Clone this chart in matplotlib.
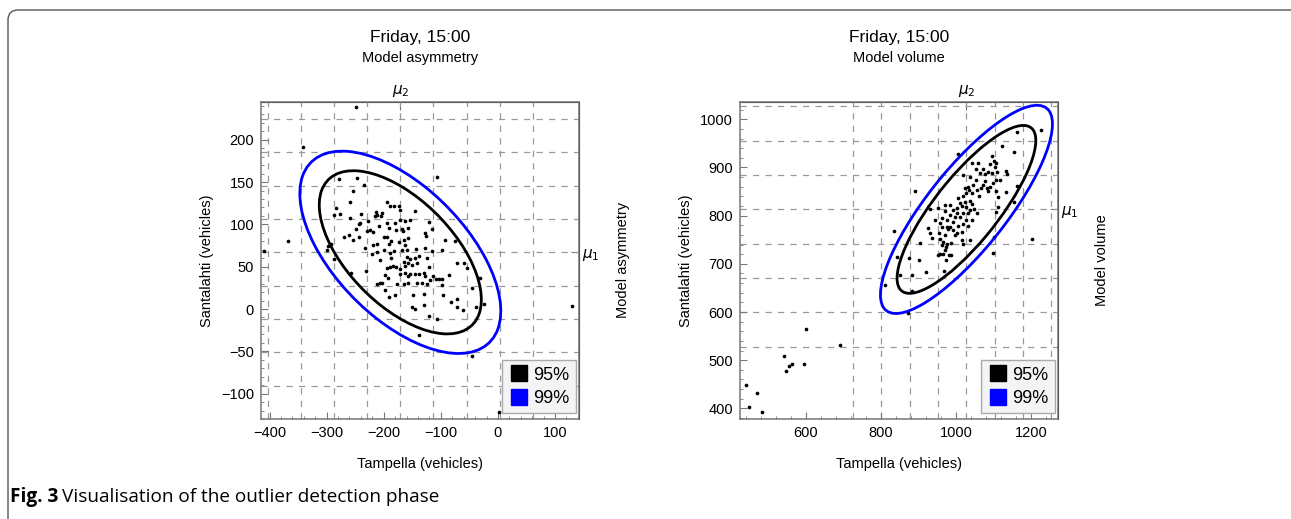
import numpy as np
import matplotlib
matplotlib.use('Agg')
import matplotlib.pyplot as plt
from matplotlib.patches import Ellipse, FancyBboxPatch
from matplotlib.lines import Line2D
from matplotlib.ticker import AutoMinorLocator

plt.rcParams['font.family'] = ['Liberation Sans', 'DejaVu Sans']

# Model asymmetry: (Tampella, Santalahti) points
asym_x = [-248, -342, -410, -367, 130, 1,
          -279, -247, -235, -254, -259, -284, -288, -276, -259, -240, -107, -195, -189, -182,
          -174, -172, -146, -213, -211, -203, -205, -215, -228, -244, -241, -248, -230, -219,
          -224, -209, -195, -190, -180, -172, -163, -167, -168, -179, -157, -154, -120, -115,
          -128, -126, -93, -76, -270, -260, -254, -243, -297, -300, -293, -288, -233, -219,
          -211, -200, -195, -187, -190, -174, -165, -158, -163, -160, -168, -182, -189, -188,
          -200, -211, -221, -206, -143, -139, -145, -154, -160, -164, -157, -151, -142, -128,
          -125, -116, -98, -60, -55, -31, -257,
          -231, -195, -189, -183, -178, -171, -163, -198, -193, -171, -163, -158, -154, -145,
          -139, -130, -120, -128, -113, -108, -104, -98, -119, -85, -72, -46, -206, -211,
          -203, -177, -165, -157, -142, -133, -125, -98, -198, -191, -181, -148, -130, -97,
          -82, -72, -72, -62, -39, -24, -151, -146, -130, -120, -107, -139, -46]
asym_y = [239, 192, 68, 80, 3, -122,
          154, 155, 146, 139, 126, 119, 111, 112, 108, 112, 156, 126, 122, 122,
          122, 117, 116, 115, 111, 113, 110, 110, 104, 101, 102, 95, 92, 91,
          93, 98, 102, 96, 102, 105, 104, 92, 95, 93, 96, 105, 103, 95,
          90, 86, 82, 80, 85, 88, 81, 85, 74, 70, 77, 59, 72, 76,
          77, 85, 85, 80, 77, 79, 82, 84, 76, 70, 70, 69, 66, 60,
          70, 67, 65, 58, 71, 63, 60, 59, 61, 56, 54, 52, 54, 72,
          60, 68, 70, 54, 48, 37, 43,
          45, 48, 50, 51, 50, 47, 51, 40, 37, 41, 42, 39, 41, 41,
          41, 43, 50, 39, 39, 35, 35, 35, 34, 40, 54, 25, 31, 30,
          31, 30, 30, 31, 31, 31, 30, 28, 22, 14, 16, 16, 18, 17,
          8, 12, 2, -1, 2, 6, 2, 0, 5, -8, -12, -31, -56]

# Model volume: points
vol_x = [441, 448, 470, 484, 542, 547, 555, 564, 596, 599, 692,
         1162, 1228, 1124, 1155, 1006, 1095, 1101, 1107, 1092, 1104, 1060, 1042, 1053, 1073,
         1086, 1077, 1064, 1095, 1110, 1133, 1137, 1020, 1037, 1053, 1077, 1107, 1100, 1117,
         1073, 1082, 1086, 1091, 1067, 1055, 1046, 1033, 1024, 1036, 1028, 1042, 1062, 1108,
         1113, 1133, 1162, 1155, 891, 1020, 1006, 1011, 1024, 1037, 1044, 1015, 1028, 1037,
         1048, 1033, 1004, 993, 984, 971, 953, 931, 971, 1004, 1020, 1055, 1113, 1108,
         984, 997, 1011, 1028, 1042, 964, 975, 957, 944, 991, 1006, 1020, 1033, 975, 984,
         962, 926,
         835, 993, 980, 932, 956, 997, 1004, 1015, 971, 957, 966, 962, 977, 988, 973, 904,
         935, 1015, 1018, 1037, 957, 966, 953, 981, 988, 971, 973, 968, 902, 876, 842, 852,
         884, 920, 811, 882, 873, 1101, 1100, 1202]
vol_y = [448, 403, 432, 392, 508, 477, 488, 493, 493, 564, 531,
         974, 978, 945, 933, 927, 924, 914, 909, 907, 902, 909, 910, 896, 896,
         891, 886, 888, 888, 891, 893, 886, 884, 881, 874, 871, 873, 868, 874,
         864, 858, 851, 860, 857, 853, 864, 860, 857, 853, 848, 846, 841, 852,
         839, 850, 862, 829, 851, 841, 836, 826, 829, 831, 824, 820, 817, 812,
         813, 805, 815, 812, 822, 822, 815, 813, 810, 805, 805, 805, 817, 808,
         801, 797, 798, 791, 792, 795, 791, 784, 791, 786, 779, 783, 779, 777, 776,
         776, 774,
         768, 770, 772, 765, 763, 760, 765, 767, 760, 751, 746, 739, 741, 744, 734, 744,
         753, 750, 741, 750, 720, 720, 719, 719, 719, 728, 707, 685, 708, 713, 714, 677,
         676, 684, 656, 643, 598, 755, 722, 752]

# mean, std and correlation of each model (grid lines sit at mean + k*std)
asym_mu = (-171, 67)
asym_sd = (58, 39.4)
asym_rho = -0.58
vol_mu = (1028, 813)
vol_sd = (75.6, 71.2)
vol_rho = 0.82

levels = ['95%', '99%']
level_chi2 = [5.991, 9.210]
level_colors = ['black', '#0000ff']

W, H = 1291, 519
fig = plt.figure(figsize=(W / 100, H / 100), dpi=100)


def conf_ellipse(ax, mu, sd, rho, chi2, color):
    cov = np.array([[sd[0] ** 2, rho * sd[0] * sd[1]],
                    [rho * sd[0] * sd[1], sd[1] ** 2]])
    vals, vecs = np.linalg.eigh(cov)
    angle = np.degrees(np.arctan2(vecs[1, 1], vecs[0, 1]))
    e = Ellipse(mu, 2 * np.sqrt(chi2 * vals[1]), 2 * np.sqrt(chi2 * vals[0]),
                angle=angle, fill=False, ec=color, lw=2.0, zorder=4)
    ax.add_patch(e)


def panel(rect, x, y, mu, sd, rho, xlim, ylim, xticks, yticks, model):
    ax = fig.add_axes(rect)
    for k in range(-4, 5):
        ax.axvline(mu[0] + k * sd[0], color='#999999', lw=0.9, ls=(0, (5, 5)), zorder=1)
        ax.axhline(mu[1] + k * sd[1], color='#999999', lw=0.9, ls=(0, (5, 5)), zorder=1)
    ax.scatter(x, y, s=7, c='black', lw=0, zorder=3)
    for chi2, col in zip(level_chi2, level_colors):
        conf_ellipse(ax, mu, sd, rho, chi2, col)
    ax.set_xlim(xlim)
    ax.set_ylim(ylim)
    ax.set_xticks(xticks)
    ax.set_yticks(yticks)
    ax.xaxis.set_minor_locator(AutoMinorLocator(5))
    ax.yaxis.set_minor_locator(AutoMinorLocator(5))
    ax.tick_params(which='both', direction='in', color='#777777', labelsize=10.5, pad=5)
    ax.tick_params(which='major', length=5)
    ax.tick_params(which='minor', length=2.5)
    for s in ax.spines.values():
        s.set_color('#777777')
        s.set_linewidth(1.1)
    ax.set_xlabel('Tampella (vehicles)', fontsize=10.5, labelpad=12)
    ax.set_ylabel('Santalahti (vehicles)', fontsize=10.5, labelpad=5)

    top = ax.secondary_xaxis('top')
    top.set_xticks([mu[0]], labels=['$\\mu_2$'])
    top.tick_params(direction='in', length=6, color='#777777', labelsize=11, pad=2)
    right = ax.secondary_yaxis('right')
    right.set_yticks([mu[1]], labels=['$\\mu_1$'])
    right.tick_params(direction='in', length=6, color='#777777', labelsize=11, pad=2)
    right.set_ylabel(model, fontsize=10.5, labelpad=12)

    ax.text(0.5, 1.0 + 64 / 317, 'Friday, 15:00', transform=ax.transAxes,
            ha='center', va='center', fontsize=12.5)
    ax.text(0.5, 1.0 + 44 / 317, model, transform=ax.transAxes,
            ha='center', va='center', fontsize=10.5)

    handles = [Line2D([], [], ls='none', marker='s', ms=11, mfc=c, mec=c)
               for c in level_colors]
    leg = ax.legend(handles, levels, loc='lower right', bbox_to_anchor=(0.99, 0.018),
                    fontsize=13, frameon=True, fancybox=False, borderpad=0.35,
                    handletextpad=0.2, handlelength=1.2, labelspacing=0.35,
                    borderaxespad=0)
    leg.get_frame().set_facecolor('#f4f4f4')
    leg.get_frame().set_edgecolor('#aaaaaa')
    leg.get_frame().set_alpha(1)
    leg.set_zorder(6)
    return ax


panel([261 / W, 1 - 419 / H, 318 / W, 317.3 / H], asym_x, asym_y, asym_mu, asym_sd, asym_rho,
      (-415, 142), (-130, 245), [-400, -300, -200, -100, 0, 100],
      [-100, -50, 0, 50, 100, 150, 200], 'Model asymmetry')
panel([740 / W, 1 - 419 / H, 318.3 / W, 317.3 / H], vol_x, vol_y, vol_mu, vol_sd, vol_rho,
      (424, 1273), (378, 1036.5), [600, 800, 1000, 1200],
      [400, 500, 600, 700, 800, 900, 1000], 'Model volume')

# outer rounded frame of the figure panel
box = FancyBboxPatch((0.08, -1.0), 14.0, 6.09, boxstyle='round,pad=0,rounding_size=0.1',
                     transform=fig.dpi_scale_trans, fill=False, ec='#555555', lw=1.0)
fig.patches.append(box)

cap_font = ['Open Sans', 'DejaVu Sans']
cap1 = fig.text(10 / W, 1 - 497 / H, 'Fig. 3', fontsize=13.7, fontweight='bold',
                family=cap_font, va='center', ha='left')
fig.canvas.draw()
bb = cap1.get_window_extent()
fig.text((bb.x1 + 4) / W, 1 - 497 / H, 'Visualisation of the outlier detection phase',
         fontsize=13.7, family=cap_font, va='center', ha='left')

fig.savefig('out.png', dpi=100)
